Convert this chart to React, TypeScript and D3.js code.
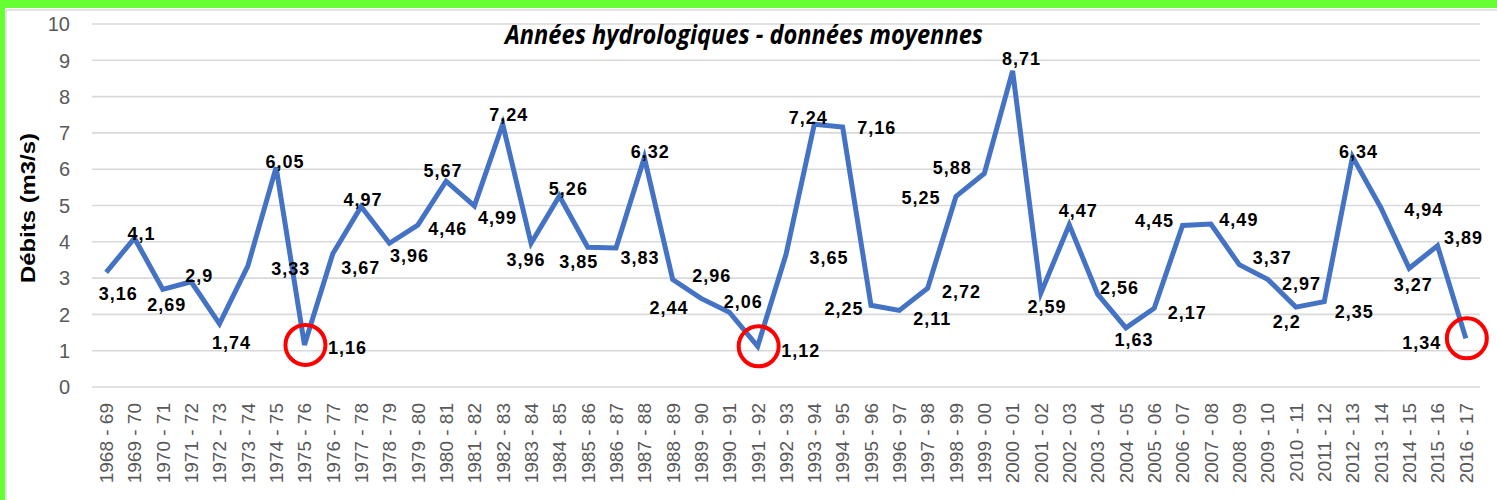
import React from "react";
import * as d3 from "d3";

const categories: string[] = [
  "1968 - 69", "1969 - 70", "1970 - 71", "1971 - 72", "1972 - 73", "1973 - 74", "1974 - 75",
  "1975 - 76", "1976 - 77", "1977 - 78", "1978 - 79", "1979 - 80", "1980 - 81", "1981 - 82",
  "1982 - 83", "1983 - 84", "1984 - 85", "1985 - 86", "1986 - 87", "1987 - 88", "1988 - 89",
  "1989 - 90", "1990 - 91", "1991 - 92", "1992 - 93", "1993 - 94", "1994 - 95", "1995 - 96",
  "1996 - 97", "1997 - 98", "1998 - 99", "1999 - 00", "2000 - 01", "2001 - 02", "2002 - 03",
  "2003 - 04", "2004 - 05", "2005 - 06", "2006 - 07", "2007 - 08", "2008 - 09", "2009 - 10",
  "2010 - 11", "2011 - 12", "2012 - 13", "2013 - 14", "2014 - 15", "2015 - 16", "2016 - 17",
];

const debits: number[] = [
  3.16, 4.1, 2.69, 2.9, 1.74, 3.33, 6.05,
  1.16, 3.67, 4.97, 3.96, 4.46, 5.67, 4.99,
  7.24, 3.96, 5.26, 3.85, 3.83, 6.32, 2.96,
  2.44, 2.06, 1.12, 3.65, 7.24, 7.16, 2.25,
  2.11, 2.72, 5.25, 5.88, 8.71, 2.59, 4.47,
  2.56, 1.63, 2.17, 4.45, 4.49, 3.37, 2.97,
  2.2, 2.35, 6.34, 4.94, 3.27, 3.89, 1.34,
];

const yTicks: number[] = [0, 1, 2, 3, 4, 5, 6, 7, 8, 9, 10];

const highlighted: string[] = ["1975 - 76", "1991 - 92", "2016 - 17"];

// label placement (offset of label centre from its point), as dragged in the original
const labelOffsets: [number, number][] = [
  [12, 21], [7, -5], [4, 15], [8, -6], [12, 19], [43, 2], [9, -6],
  [43, 3], [28, 14], [2, -7], [20, 12], [30, 3], [-3, -11], [23, 12],
  [6, -10], [-5, 16], [9, -8], [-9, 14], [24, 10], [6, -6], [39, -4],
  [-32, 9], [14, -11], [43, 4], [43, 3], [-6, -7], [34, 0], [-27, 3],
  [33, 8], [34, 3], [-35, 1], [-32, -6], [9, -12], [6, 14], [9, -14],
  [22, -7], [8, 12], [33, 4], [-28, -5], [28, -4], [33, -7], [34, 4],
  [-9, 14], [30, 10], [6, -5], [43, 2], [4, 16], [26, -8], [-44, 4],
];

const W = 1497;
const H = 500;
const plotLeft = 92;
const plotRight = 1480;
const plotTop = 24;
const plotBottom = 387;

const fmt = (v: number) => String(v).replace(".", ",");

export default function App() {
  const x = d3.scaleBand<string>().domain(categories).range([plotLeft, plotRight]).padding(0);
  const cx = (c: string) => (x(c) as number) + x.bandwidth() / 2;
  const y = d3.scaleLinear().domain([0, 10]).range([plotBottom, plotTop]);

  const line = d3
    .line<number>()
    .x((_, i) => cx(categories[i]))
    .y((d) => y(d));

  return (
    <svg
      width={W}
      height={H}
      style={{ position: "absolute", left: 0, top: 0, background: "#ffffff" }}
    >
      <rect x={0} y={0} width={W} height={H} fill="#ffffff" />
      {/* green frame */}
      <rect x={0} y={0} width={W} height={8} fill="#66ff33" />
      <rect x={0} y={0} width={5} height={H} fill="#66ff33" />
      {/* chart area border */}
      <line x1={6} x2={W} y1={10} y2={10} stroke="#d9d9d9" strokeWidth={1.5} />
      <line x1={6} x2={6} y1={10} y2={H} stroke="#d9d9d9" strokeWidth={1.5} />

      {/* grid */}
      {yTicks.map((t) => (
        <line
          key={"g" + t}
          x1={plotLeft}
          x2={plotRight}
          y1={y(t)}
          y2={y(t)}
          stroke="#d9d9d9"
          strokeWidth={1.6}
        />
      ))}
      {yTicks.map((t) => (
        <text
          key={"yt" + t}
          x={70}
          y={y(t)}
          dy="0.36em"
          textAnchor="end"
          fontFamily="'Liberation Sans', Arial, sans-serif"
          fontSize={20}
          fill="#595959"
        >
          {t}
        </text>
      ))}

      {/* y axis title */}
      <text
        transform={`translate(35, 208) rotate(-90)`}
        textAnchor="middle"
        fontFamily="'Liberation Sans', Arial, sans-serif"
        fontWeight="bold"
        fontSize={21}
        fill="#000000"
        textLength={150}
        lengthAdjust="spacingAndGlyphs"
      >
        Débits (m3/s)
      </text>

      {/* x tick labels */}
      {categories.map((c) => (
        <text
          key={"xt" + c}
          transform={`translate(${cx(c)}, 403) rotate(-90)`}
          dy="0.36em"
          textAnchor="end"
          fontFamily="'Liberation Sans', Arial, sans-serif"
          fontSize={19}
          fill="#595959"
        >
          {c}
        </text>
      ))}

      {/* title */}
      <text
        x={744}
        y={44}
        textAnchor="middle"
        fontFamily="'Open Sans', sans-serif"
        fontWeight="bold"
        fontStyle="italic"
        fontSize={27}
        fill="#000000"
        textLength={478}
        lengthAdjust="spacingAndGlyphs"
      >
        Années hydrologiques - données moyennes
      </text>

      {/* series */}
      <path
        d={line(debits) || ""}
        fill="none"
        stroke="#4472c4"
        strokeWidth={5}
        strokeLinejoin="miter"
        strokeMiterlimit={4}
      />

      {/* data labels */}
      {debits.map((v, i) => (
        <text
          key={"dl" + i}
          x={cx(categories[i]) + labelOffsets[i][0]}
          y={y(v) + labelOffsets[i][1]}
          dy="0.36em"
          textAnchor="middle"
          fontFamily="'Liberation Sans', Arial, sans-serif"
          fontWeight="bold"
          fontSize={18}
          letterSpacing={1}
          fill="#000000"
        >
          {fmt(v)}
        </text>
      ))}

      {/* highlight circles */}
      {highlighted.map((c) => {
        const i = categories.indexOf(c);
        return (
          <circle
            key={"c" + c}
            cx={cx(c) + 1}
            cy={y(debits[i])}
            r={20}
            fill="none"
            stroke="#ff0000"
            strokeWidth={4}
          />
        );
      })}
    </svg>
  );
}
